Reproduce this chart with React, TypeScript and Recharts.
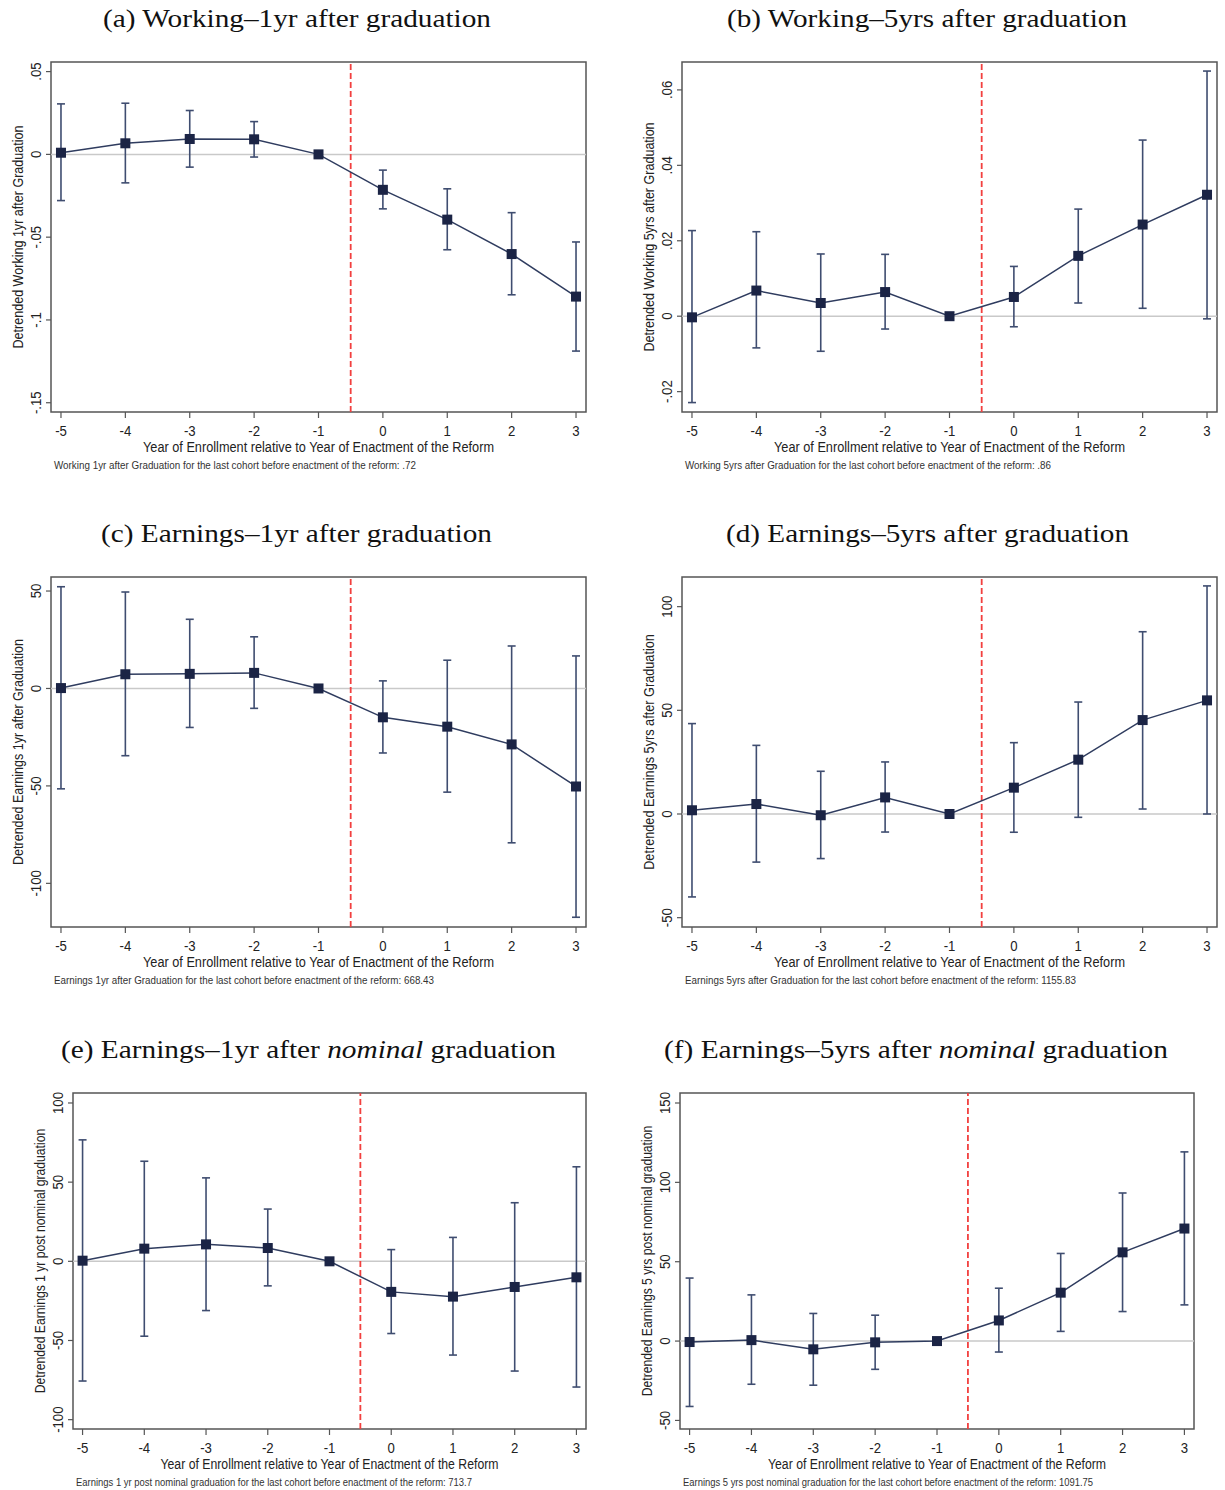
import React from "react";
import { ComposedChart, Line, ErrorBar, XAxis, YAxis, ReferenceLine, ReferenceArea } from "recharts";

// cohorts relative to the reform year
const years = [-5, -4, -3, -2, -1, 0, 1, 2, 3];

// (a) working 1yr after graduation
const work1Est = [0.001, 0.0067, 0.0093, 0.0091, 0, -0.0214, -0.0394, -0.0602, -0.0859];
const work1Lo = [-0.0279, -0.0172, -0.0077, -0.0016, 0, -0.0329, -0.0576, -0.0848, -0.1188];
const work1Hi = [0.0305, 0.0309, 0.0265, 0.0198, 0, -0.0095, -0.0208, -0.0352, -0.0529];
const work1Ticks = [-0.15, -0.1, -0.05, 0, 0.05];

// (b) working 5yrs after graduation
const work5Est = [-0.0003, 0.0068, 0.0035, 0.0064, 0, 0.0051, 0.016, 0.0243, 0.0322];
const work5Lo = [-0.0229, -0.0084, -0.0093, -0.0034, 0, -0.0028, 0.0035, 0.0021, -0.0007];
const work5Hi = [0.0227, 0.0224, 0.0165, 0.0164, 0, 0.0132, 0.0284, 0.0467, 0.065];
const work5Ticks = [-0.02, 0, 0.02, 0.04, 0.06];

// (c) earnings 1yr after graduation
const earn1Est = [0.2, 7.3, 7.5, 8, 0, -14.8, -19.6, -28.7, -50.3];
const earn1Lo = [-51.5, -34.5, -20, -10.2, 0, -33.1, -53.2, -79.2, -117.4];
const earn1Hi = [52.2, 49.5, 35.5, 26.5, 0, 3.9, 14.5, 21.8, 16.7];
const earn1Ticks = [-100, -50, 0, 50];

// (d) earnings 5yrs after graduation
const earn5Est = [1.8, 4.8, -0.6, 8, 0, 12.7, 26.2, 45.3, 54.8];
const earn5Lo = [-40, -23.2, -21.5, -8.7, 0, -8.8, -1.6, 2.4, 0];
const earn5Hi = [43.6, 33.1, 20.6, 25.1, 0, 34.4, 54, 87.9, 110];
const earn5Ticks = [-50, 0, 50, 100];

// (e) earnings 1yr after nominal graduation
const nom1Est = [0.4, 8, 10.7, 8.4, 0, -19.3, -22.3, -16.2, -10.1];
const nom1Lo = [-75.6, -47.3, -31.1, -15.5, 0, -45.6, -59.2, -69.3, -79.4];
const nom1Hi = [76.7, 63.2, 52.7, 33, 0, 7.4, 15.1, 37, 59.7];
const nom1Ticks = [-100, -50, 0, 50, 100];

// (f) earnings 5yrs after nominal graduation
const nom5Est = [-0.6, 0.6, -5.2, -0.8, 0, 13, 30.5, 55.9, 70.9];
const nom5Lo = [-41.2, -27.2, -27.8, -17.8, 0, -6.9, 6.1, 18.6, 22.8];
const nom5Hi = [39.7, 29.1, 17.4, 16.3, 0, 33.3, 55.2, 93.3, 119.2];
const nom5Ticks = [-50, 0, 50, 100, 150];

const xLabel = "Year of Enrollment relative to Year of Enactment of the Reform";

const SANS = "'Liberation Sans', Arial, sans-serif";
const SERIF = "'Liberation Serif', 'Times New Roman', serif";
const FRAME = "#555";
const MARK = "#1b2445";
const LINE = "#2f3c5f";
const ERR = "#3f4d70";
const TXT = "#222";

// room around each plot frame
const PL = 52, PT = 30, PR = 10, PB = 60, YW = 20, XH = 30;
const xDomain = [-5.155, 3.155];

const stata = (v: number) => String(v).replace("0.", ".");

// ySq: horizontal squeeze of the rotated y title (the original uses a narrow face)
const panels = [
  {
    est: work1Est, lo: work1Lo, hi: work1Hi, ticks: work1Ticks, domain: [-0.1556, 0.0558],
    title: [{ t: "(a) Working–1yr after graduation" }],
    yTitle: "Detrended Working 1yr after Graduation",
    note: "Working 1yr after Graduation for the last cohort before enactment of the reform: .72",
    frame: { x: 51, y: 62, w: 535, h: 350 }, tx: 297, ty: 27, tLen: 388, ySq: 0.81, yFs: 15.5, xLen: 351, nLen: 362,
  },
  {
    est: work5Est, lo: work5Lo, hi: work5Hi, ticks: work5Ticks, domain: [-0.0254, 0.0674],
    title: [{ t: "(b) Working–5yrs after graduation" }],
    yTitle: "Detrended Working 5yrs after Graduation",
    note: "Working 5yrs after Graduation for the last cohort before enactment of the reform: .86",
    frame: { x: 682, y: 62, w: 535, h: 350 }, tx: 927, ty: 27, tLen: 400, ySq: 0.81, yFs: 15.5, xLen: 351, nLen: 366,
  },
  {
    est: earn1Est, lo: earn1Lo, hi: earn1Hi, ticks: earn1Ticks, domain: [-122.4, 57.2],
    title: [{ t: "(c) Earnings–1yr after graduation" }],
    yTitle: "Detrended Earnings 1yr after Graduation",
    note: "Earnings 1yr after Graduation for the last cohort before enactment of the reform: 668.43",
    frame: { x: 51, y: 577, w: 535, h: 350 }, tx: 296.5, ty: 542, tLen: 391, ySq: 0.807, yFs: 15.5, xLen: 351, nLen: 380,
  },
  {
    est: earn5Est, lo: earn5Lo, hi: earn5Hi, ticks: earn5Ticks, domain: [-54.5, 114.3],
    title: [{ t: "(d) Earnings–5yrs after graduation" }],
    yTitle: "Detrended Earnings 5yrs after Graduation",
    note: "Earnings 5yrs after Graduation for the last cohort before enactment of the reform: 1155.83",
    frame: { x: 682, y: 577, w: 535, h: 350 }, tx: 927.5, ty: 542, tLen: 403, ySq: 0.82, yFs: 15.5, xLen: 351, nLen: 391,
  },
  {
    est: nom1Est, lo: nom1Lo, hi: nom1Hi, ticks: nom1Ticks, domain: [-105.9, 106.3],
    title: [{ t: "(e) Earnings–1yr after " }, { t: "nominal", i: true }, { t: " graduation" }],
    yTitle: "Detrended Earnings 1 yr post nominal graduation",
    note: "Earnings 1 yr post nominal graduation for the last cohort before enactment of the reform: 713.7",
    frame: { x: 73, y: 1093, w: 513, h: 336 }, tx: 308.5, ty: 1058, tLen: 495, ySq: 0.81, yFs: 15, xLen: 338, nLen: 396,
  },
  {
    est: nom5Est, lo: nom5Lo, hi: nom5Hi, ticks: nom5Ticks, domain: [-55.4, 156.3],
    title: [{ t: "(f) Earnings–5yrs after " }, { t: "nominal", i: true }, { t: " graduation" }],
    yTitle: "Detrended Earnings 5 yrs post nominal graduation",
    note: "Earnings 5 yrs post nominal graduation for the last cohort before enactment of the reform: 1091.75",
    frame: { x: 680, y: 1093, w: 514, h: 336 }, tx: 916, ty: 1058, tLen: 504, ySq: 0.81, yFs: 15, xLen: 338, nLen: 410,
  },
];

const XTick = (props: any) => {
  const { x, y, payload } = props;
  return (
    <text transform={`translate(${x},${y + 11}) scale(0.85,1)`} textAnchor="middle" fontFamily={SANS} fontSize={15.5} fill={TXT}>
      {payload.value}
    </text>
  );
};

const YTick = (props: any) => {
  const { x, y, payload } = props;
  return (
    <text transform={`translate(${x},${y}) rotate(-90) scale(0.85,1)`} textAnchor="middle" fontFamily={SANS} fontSize={15.5} fill={TXT}>
      {stata(payload.value)}
    </text>
  );
};

const squareDot = (props: any) => {
  const { cx, cy, index } = props;
  return <rect key={`sq-${index}`} x={cx - 5} y={cy - 5} width={10} height={10} fill={MARK} />;
};

function Panel({ p }: { p: any }) {
  const { w, h } = p.frame;
  const W = w + PL + PR;
  const H = h + PT + PB;
  const data = years.map((x, i) => ({ x, y: p.est[i], err: [p.est[i] - p.lo[i], p.hi[i] - p.est[i]] }));

  const xLabelContent = () => (
    <g>
      <text x={PL + w / 2} y={PT + h + 40} textAnchor="middle" fontFamily={SANS} fontSize={15.5} fill={TXT}
        textLength={p.xLen} lengthAdjust="spacingAndGlyphs">
        {xLabel}
      </text>
      <text x={PL + 3} y={PT + h + 56.5} fontFamily={SANS} fontSize={11.5} fill="#333"
        textLength={p.nLen} lengthAdjust="spacingAndGlyphs">
        {p.note}
      </text>
    </g>
  );

  const yLabelContent = () => {
    const lx = PL - 28;
    const ly = PT + h / 2;
    return (
      <text transform={`translate(${lx},${ly}) rotate(-90) scale(${p.ySq},1)`} textAnchor="middle"
        fontFamily={SANS} fontSize={p.yFs} fill={TXT}>
        {p.yTitle}
      </text>
    );
  };

  return (
    <div style={{ position: "absolute", left: p.frame.x - PL, top: p.frame.y - PT, width: W, height: H }}>
      <ComposedChart width={W} height={H} data={data} margin={{ top: PT, right: PR, left: PL - YW, bottom: PB - XH }}>
        <XAxis type="number" dataKey="x" domain={xDomain} ticks={years} interval={0} allowDataOverflow
          height={XH} axisLine={false} tickSize={6} tickMargin={6.5} tickLine={{ stroke: FRAME, strokeWidth: 1.2 }}
          tick={<XTick />} label={{ content: xLabelContent }} />
        <YAxis type="number" domain={p.domain} ticks={p.ticks} interval={0} allowDataOverflow
          width={YW} axisLine={false} tickSize={5} tickMargin={5} tickLine={{ stroke: FRAME, strokeWidth: 1.2 }}
          tick={<YTick />} label={{ content: yLabelContent }} />
        <ReferenceLine y={0} stroke="#c9c9c9" strokeWidth={1.5} />
        <ReferenceLine x={-0.5} stroke="#f2403f" strokeWidth={1.8} strokeDasharray="6 3" />
        <ReferenceArea x1={xDomain[0]} x2={xDomain[1]} y1={p.domain[0]} y2={p.domain[1]} fill="none" stroke={FRAME} strokeWidth={1.5} />
        <Line dataKey="y" stroke={LINE} strokeWidth={1.5} dot={squareDot} activeDot={false} isAnimationActive={false}>
          <ErrorBar dataKey="err" direction="y" width={4} stroke={ERR} strokeWidth={1.6} isAnimationActive={false} />
        </Line>
      </ComposedChart>
    </div>
  );
}

export default function App() {
  return (
    <div style={{ position: "absolute", left: 0, top: 0, width: 1225, height: 1490, background: "#fff" }}>
      <svg width={1225} height={1490} style={{ position: "absolute", left: 0, top: 0 }}>
        {panels.map((p, i) => (
          <text key={i} x={p.tx} y={p.ty} textAnchor="middle" fontFamily={SERIF} fontSize={26} fill="#111"
            textLength={p.tLen} lengthAdjust="spacingAndGlyphs">
            {p.title.map((part: any, j: number) => (
              <tspan key={j} fontStyle={part.i ? "italic" : "normal"}>{part.t}</tspan>
            ))}
          </text>
        ))}
      </svg>
      {panels.map((p, i) => (
        <Panel key={i} p={p} />
      ))}
    </div>
  );
}
